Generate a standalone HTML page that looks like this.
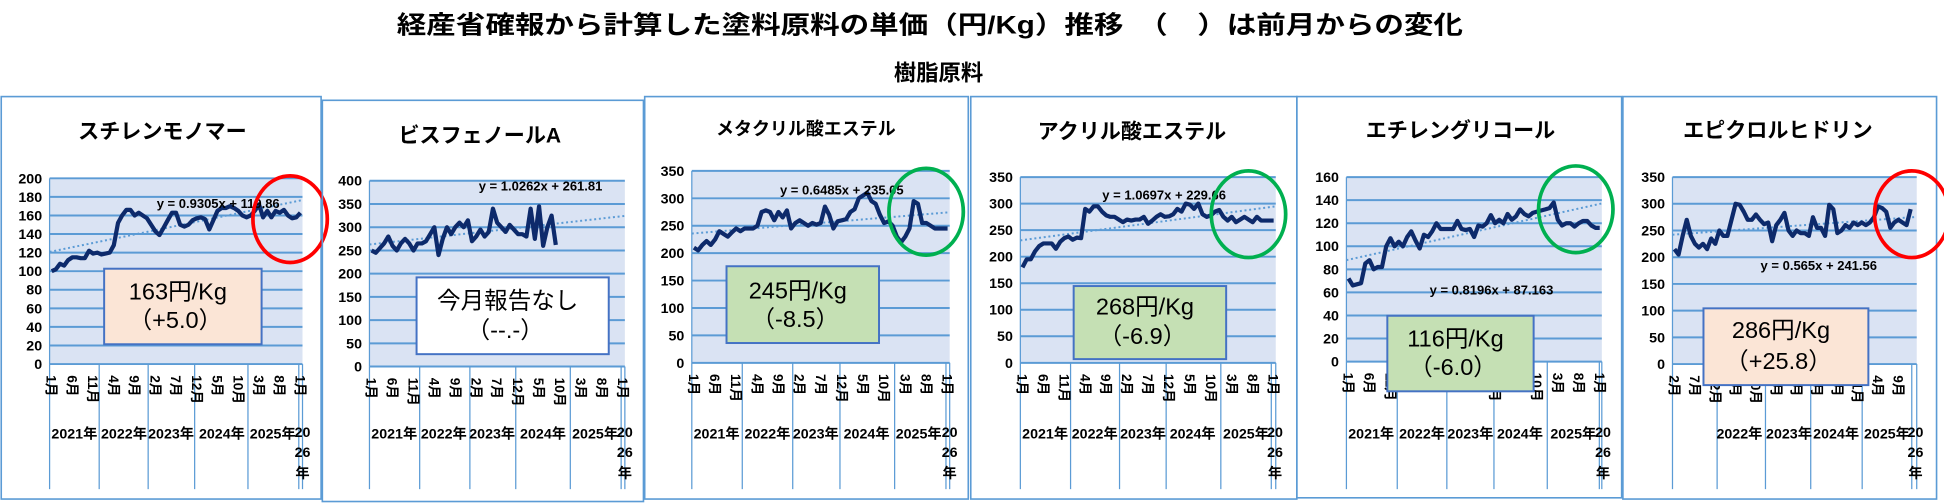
<!DOCTYPE html>
<html><head><meta charset="utf-8">
<style>
html,body{margin:0;padding:0;background:#fff;overflow:hidden}
svg{display:block}
text{font-family:"Liberation Sans","Noto Sans CJK JP",sans-serif;font-weight:bold;fill:#000}
text.n{font-weight:normal}
</style></head>
<body>
<svg id="s" width="1944" height="504" viewBox="0 0 1568 407" preserveAspectRatio="none" xmlns="http://www.w3.org/2000/svg">
<rect width="1568" height="407" fill="#fff"/>
<text x="750" y="27" font-size="20" text-anchor="middle" textLength="860" lengthAdjust="spacingAndGlyphs">経産省確報から計算した塗料原料の単価（円/Kg）推移　（　）は前月からの変化</text>
<text x="757" y="65" font-size="18" text-anchor="middle">樹脂原料</text>
<g id="g"></g>
</svg>
<script>
const NS="http://www.w3.org/2000/svg";
const G=document.getElementById('g');
function el(t,a,txt){const e=document.createElementNS(NS,t);for(const k in a)e.setAttribute(k,a[k]);if(txt!==undefined)e.textContent=txt;G.appendChild(e);return e;}
const M1=["1月","6月","11月","4月","9月","2月","7月","12月","5月","10月","3月","8月","1月"];
const M6=["2月","7月","12月","5月","10月","3月","8月","1月","6月","11月","4月","9月"];
function panel(p){
  el('rect',{x:p.b[0],y:p.b[1],width:p.b[2]-p.b[0],height:p.b[3]-p.b[1],fill:'none',stroke:'#5b9bd5','stroke-width':1.3});
  el('text',{x:p.t[0],y:p.t[1]+6,'font-size':p.t[2],'text-anchor':'middle'},p.title);
  const [x0,x1,y0,y1]=p.pa;
  el('rect',{x:x0,y:y0,width:x1-x0,height:y1-y0,fill:'#dae3f3'});
  const n=p.ymax/p.step;
  for(let i=0;i<=n;i++){const y=y1-(y1-y0)*i/n;
    el('line',{x1:x0,x2:x1,y1:y,y2:y,stroke:'#5b9bd5','stroke-width':1.6});
    el('text',{x:x0-6,y:y+4,'font-size':11.5,'text-anchor':'end'},String(p.step*i));}
  p.yl.forEach(x=>el('line',{x1:x,x2:x,y1:y1,y2:395,stroke:'#5b9bd5','stroke-width':1}));
  el('line',{x1:x0,x2:x0,y1:y0,y2:y1,stroke:'#5b9bd5','stroke-width':1});
  const N=p.N, w=(x1-x0)/N;
  const ml=p.m6?M6:M1;
  ml.forEach((m,i)=>{const x=x0+(i*5+0.5)*w-4;
    el('text',{x:0,y:0,'font-size':11,transform:`translate(${x},${y1+9}) rotate(90)`},m);});
  p.yt.forEach(([t,x])=>el('text',{x:x,y:354,'font-size':11.5,'text-anchor':'middle'},t));
  const lx=p.yl[p.yl.length-2]+3;
  el('text',{x:lx,y:353,'font-size':11.5,'text-anchor':'middle'},'20');
  el('text',{x:lx,y:369,'font-size':11.5,'text-anchor':'middle'},'26');
  el('text',{x:lx,y:386,'font-size':11.5,'text-anchor':'middle'},'年');
  const Y=v=>y1-(y1-y0)*v/p.ymax, X=i=>x0+(i+0.5)*w;
  el('line',{x1:x0,y1:Y(p.tr[0]*1+p.tr[1]),x2:x1,y2:Y(p.tr[0]*N+p.tr[1]),stroke:'#5b9bd5','stroke-width':1.6,'stroke-dasharray':'1.6 2.2'});
  el('polyline',{points:p.d.map((v,i)=>X(i).toFixed(1)+','+Y(v).toFixed(1)).join(' '),fill:'none',stroke:'#0d2a6b','stroke-width':3.4,'stroke-linejoin':'round'});
  el('text',{x:p.tl[0],y:p.tl[1]+4,'font-size':10.5,'text-anchor':'middle'},p.tlt);
  const bx=p.box;
  el('rect',{x:bx[0],y:bx[1],width:bx[2]-bx[0],height:bx[3]-bx[1],fill:p.bf,stroke:'#4472c4','stroke-width':1.6});
  const cx=(bx[0]+bx[2])/2;
  el('text',{class:'n',x:cx-4,y:bx[4]+7,'font-size':19,'text-anchor':'middle'},p.l1);
  el('text',{class:'n',x:cx-6,y:bx[5]+7,'font-size':19,'text-anchor':'middle'},p.l2);
  if(p.el)el('ellipse',{cx:p.el[0],cy:p.el[1],rx:30,ry:35,fill:'none',stroke:p.el[2],'stroke-width':3});
}
panel({b:[1,78,259,403],title:'スチレンモノマー',t:[131,106,17],pa:[40,244,144,294],ymax:200,step:20,N:61,
 yl:[40,80,119.5,157,200,241,244],yt:[['2021年',60],['2022年',100],['2023年',138],['2024年',179],['2025年',220]],
 tr:[0.9305,119.86],tl:[176,164],tlt:'y = 0.9305x + 119.86',
 d:[100,102,108,106,112,115,115,114,114,122,119,120,118,119,120,128,152,160,166,166,160,163,160,157,150,143,139,147,155,163,163,150,148,150,155,157,158,156,145,155,165,168,168,170,168,165,160,158,160,165,172,158,165,158,165,163,166,160,157,158,163],
 box:[84,217,211,278,235,258],bf:'#fbe5d6',l1:'163円/Kg',l2:'（+5.0）',el:[234,177,'#ff0000']});
panel({b:[260,81,519,405],title:'ビスフェノールA',t:[387,109,17],pa:[298,504,146,296],ymax:400,step:50,N:61,
 yl:[298,338.5,379,416,460,501,504],yt:[['2021年',318],['2022年',358],['2023年',397],['2024年',438],['2025年',480]],
 tr:[1.0262,261.81],tl:[436,150],tlt:'y = 1.0262x + 261.81',
 d:[250,245,255,265,280,260,250,265,275,265,250,265,265,270,285,300,240,275,300,285,300,310,300,315,270,280,295,280,290,340,310,300,290,305,295,285,285,280,340,275,345,260,300,325,262],
 box:[336,224,491,286,242,266],bf:'#ffffff',l1:'今月報告なし',l2:'（--.-）'});
panel({b:[520,78,781,403],title:'メタクリル酸エステル',t:[650,103,14.5],pa:[558,766,138,293],ymax:350,step:50,N:61,
 yl:[558,598.7,639.4,677.5,721.6,763,766],yt:[['2021年',578],['2022年',619],['2023年',658],['2024年',699],['2025年',741]],
 tr:[0.6485,235.05],tl:[679,153],tlt:'y = 0.6485x + 235.05',
 d:[210,205,215,222,215,225,240,235,230,238,245,240,245,245,245,250,275,278,275,260,275,265,278,245,255,260,255,250,255,252,255,285,270,245,258,260,262,275,280,300,305,310,295,290,270,255,258,250,230,220,230,245,295,290,255,255,250,245,245,245,245],
 box:[586,215,709,277,234,257],bf:'#c5e0b4',l1:'245円/Kg',l2:'（-8.5）',el:[747,171,'#00b050']});
panel({b:[783,78,1046,403],title:'アクリル酸エステル',t:[913,106,17],pa:[823,1029,143,293],ymax:350,step:50,N:61,
 yl:[823,863.5,903,940.6,984.7,1025.4,1029],yt:[['2021年',843],['2022年',883],['2023年',922],['2024年',962],['2025年',1005]],
 tr:[1.0697,229.66],tl:[939,157],tlt:'y = 1.0697x + 229.66',
 d:[180,195,195,210,220,225,225,225,215,228,235,238,232,236,235,290,285,295,295,285,278,275,275,270,265,270,268,270,270,275,262,268,275,280,275,276,280,290,285,300,298,290,300,280,275,278,285,288,275,268,275,265,270,275,270,265,275,268,268,268,268],
 box:[866,231,989,290,247,271],bf:'#c5e0b4',l1:'268円/Kg',l2:'（-6.9）',el:[1007,173,'#00b050']});
panel({b:[1046,78,1308,402],title:'エチレングリコール',t:[1178,105,17],pa:[1086,1292,143,292],ymax:160,step:20,N:61,
 yl:[1086,1127,1167,1205,1248,1290,1292],yt:[['2021年',1106],['2022年',1147],['2023年',1186],['2024年',1226],['2025年',1269]],
 tr:[0.8196,87.163],tl:[1203,234],tlt:'y = 0.8196x + 87.163',
 d:[72,66,67,68,85,88,80,82,82,100,107,100,104,100,108,113,105,98,110,108,113,120,115,115,115,115,122,115,114,115,108,118,117,120,127,120,123,120,128,123,126,132,128,126,129,130,131,132,133,138,123,118,120,120,117,120,122,122,118,116,116],
 box:[1119,255,1237,316,273,296],bf:'#c5e0b4',l1:'116円/Kg',l2:'（-6.0）',el:[1271,169,'#00b050']});
panel({b:[1309,78,1562,403],title:'エピクロルヒドリン',t:[1434,105,17],pa:[1349,1546,143,294],ymax:350,step:50,N:60,m6:true,
 yl:[1349,1385,1424,1460.5,1502,1542,1546],yt:[['2022年',1403],['2023年',1443],['2024年',1481],['2025年',1522]],
 tr:[0.565,241.56],tl:[1467,214],tlt:'y = 0.565x + 241.56',
 d:[215,205,240,270,240,225,218,225,215,235,225,250,240,240,270,300,298,285,270,270,280,270,262,265,230,260,270,283,250,240,250,245,245,240,275,255,255,240,298,290,245,250,260,255,265,260,265,260,265,275,295,292,285,255,265,270,265,260,290],
 box:[1374,249,1507,311,266,291],bf:'#fbe5d6',l1:'286円/Kg',l2:'（+25.8）',el:[1542,173,'#ff0000']});
</script>
</body></html>
